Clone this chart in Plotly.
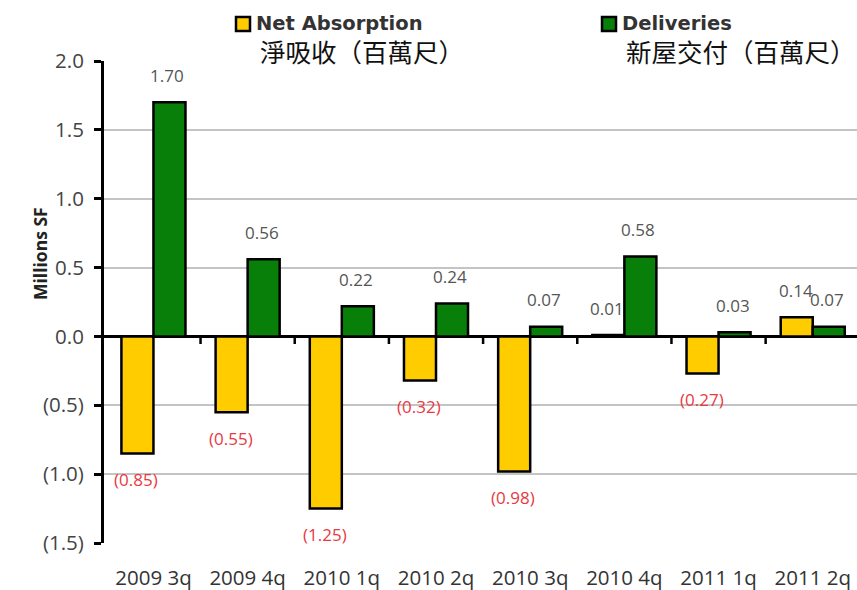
import plotly.graph_objects as go

# Quarterly office market figures, millions of square feet
categories = ["2009 3q", "2009 4q", "2010 1q", "2010 2q",
              "2010 3q", "2010 4q", "2011 1q", "2011 2q"]
net_absorption = [-0.85, -0.55, -1.25, -0.32, -0.98, 0.01, -0.27, 0.14]
deliveries = [1.70, 0.56, 0.22, 0.24, 0.07, 0.58, 0.03, 0.07]

y_tick_vals = [-1.5, -1.0, -0.5, 0.0, 0.5, 1.0, 1.5, 2.0]
y_tick_text = ["(1.5)", "(1.0)", "(0.5)", "0.0", "0.5", "1.0", "1.5", "2.0"]

series_names = ["Net Absorption", "Deliveries"]
series_names_zh = ["淨吸收（百萬尺）", "新屋交付（百萬尺）"]

YELLOW = "#FFCC00"
GREEN = "#087F08"
W, H = 857, 590
ML, MR, MT, MB = 104, 0, 61, 47

fig = go.Figure()
fig.add_trace(go.Bar(x=categories, y=net_absorption, name=series_names[0],
                     marker=dict(color=YELLOW, line=dict(color="black", width=2.5))))
fig.add_trace(go.Bar(x=categories, y=deliveries, name=series_names[1],
                     marker=dict(color=GREEN, line=dict(color="black", width=2.5))))


def fmt(v):
    return f"({abs(v):.2f})" if v < 0 else f"{v:.2f}"


annotations = []
for series, dx in ((net_absorption, -17), (deliveries, 14)):
    for cat, v in zip(categories, series):
        annotations.append(dict(
            x=cat, y=v, xref="x", yref="y", text=fmt(v), showarrow=False,
            xshift=dx, yshift=27 if v >= 0 else -26,
            font=dict(family="Open Sans", size=17,
                      color="#555555" if v >= 0 else "#E8393F")))


def px_x(p):
    return (p - ML) / (W - ML - MR)


def px_y(p):
    return (H - MB - p) / (H - MT - MB)


# Y-axis title
annotations.append(dict(
    x=px_x(40), y=px_y(254), xref="paper", yref="paper", text="<b>Millions SF</b>",
    textangle=-90, showarrow=False, xanchor="center", yanchor="middle",
    font=dict(family="Open Sans", size=17.5, color="#222222")))

shapes = []
# Custom legend: swatch, bold English name, Chinese name underneath
legend_items = (
    (series_names[0], series_names_zh[0], YELLOW, 236, 259),
    (series_names[1], series_names_zh[1], GREEN, 602, 625),
)
for name, zh, color, x0, zh_x in legend_items:
    shapes.append(dict(type="rect", xref="paper", yref="paper",
                       x0=px_x(x0), x1=px_x(x0 + 14), y0=px_y(31), y1=px_y(17),
                       fillcolor=color, line=dict(color="black", width=2.5)))
    annotations.append(dict(x=px_x(x0 + 19), y=px_y(23), xref="paper", yref="paper",
                            xanchor="left", yanchor="middle", showarrow=False,
                            text=f"<b>{name}</b>", borderpad=0,
                            font=dict(family="DejaVu Sans", size=19.5, color="#333333")))
    annotations.append(dict(x=px_x(zh_x), y=px_y(50), xref="paper", yref="paper",
                            xanchor="left", yanchor="middle", showarrow=False,
                            text=zh, borderpad=0,
                            font=dict(family="Noto Sans CJK TC", size=25.5, color="#111111")))

# Short category-boundary ticks hanging from the zero line
for i in range(len(categories) - 1):
    shapes.append(dict(type="line", xref="x", yref="y",
                       x0=i + 0.5, x1=i + 0.5, y0=0, y1=-0.055,
                       line=dict(color="black", width=2.5)))

fig.update_layout(
    width=W, height=H,
    margin=dict(l=ML, r=MR, t=MT, b=MB, pad=0),
    paper_bgcolor="white", plot_bgcolor="white",
    barmode="group", bargap=0.32, bargroupgap=0.0,
    showlegend=False,
    annotations=annotations, shapes=shapes,
    xaxis=dict(range=[-0.525, 7.47], showgrid=False, showline=False,
               ticks="", ticklabelstandoff=20,
               tickfont=dict(family="Open Sans", size=20.5, color="#333333")),
    yaxis=dict(range=[-1.5, 2.0], tickvals=y_tick_vals, ticktext=y_tick_text,
               showgrid=True, gridcolor="#C4C4C4", gridwidth=2,
               zeroline=True, zerolinecolor="black", zerolinewidth=3,
               showline=True, linecolor="black", linewidth=3,
               ticks="outside", ticklen=7, tickwidth=2.5, tickcolor="black",
               ticklabelstandoff=6,
               tickfont=dict(family="Open Sans", size=20.5, color="#444444")),
)

fig.write_html("out.html")
